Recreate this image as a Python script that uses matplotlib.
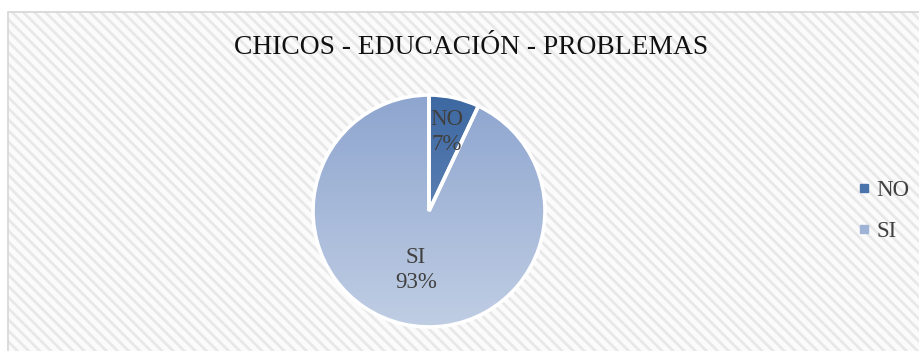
import numpy as np
import matplotlib
matplotlib.use('Agg')
import matplotlib.pyplot as plt
from matplotlib.patches import Rectangle
from matplotlib.lines import Line2D

plt.rcParams['font.family'] = ['Liberation Serif', 'DejaVu Serif']
plt.rcParams['hatch.linewidth'] = 2.0

TITLE = "CHICOS - EDUCACIÓN - PROBLEMAS"
categories = ["NO", "SI"]
values = [7, 93]

# gradient top/bottom colours per slice
grad_top = ["#3d68a1", "#8ea5cf"]
grad_bottom = ["#7796c6", "#c0cee4"]
legend_colors = ["#4a72ab", "#9fb3d7"]
label_dist = [0.70, 0.52]

W, H = 920, 351
fig = plt.figure(figsize=(W / 100, H / 100), dpi=100)
fig.patch.set_facecolor("white")

# striped chart area with thin border
bg = Rectangle((8 / W, 0), 1.0, (H - 12) / H, transform=fig.transFigure,
               facecolor="#fbfbfb", edgecolor="#e8e8e8", hatch="\\\\\\",
               linewidth=0, zorder=0)
fig.add_artist(bg)
border = Rectangle((8 / W, -0.01), 1.0, (H - 12) / H + 0.01,
                   transform=fig.transFigure, facecolor="none",
                   edgecolor="#d6d6d6", linewidth=1.2, zorder=1)
fig.add_artist(border)

fig.text(471 / W, 1 - 48 / H, TITLE, ha="center", va="center",
         fontsize=19.8, color="#111111")

# pie
cx, cy, R = 429, H - 211, 116
side = 2 * R * 1.1
ax = fig.add_axes([(cx - side / 2) / W, (cy - side / 2) / H, side / W, side / H])

wedges, _ = ax.pie(values, startangle=90, counterclock=False, radius=1.0,
                   wedgeprops=dict(edgecolor="white", linewidth=2.6),
                   colors=legend_colors)

ys = np.linspace(1, 0, 256).reshape(-1, 1, 1)
for w, top, bot in zip(wedges, grad_top, grad_bottom):
    c1 = np.array(matplotlib.colors.to_rgb(top))
    c2 = np.array(matplotlib.colors.to_rgb(bot))
    img = c1 * ys + c2 * (1 - ys)
    im = ax.imshow(img, extent=[-1, 1, -1, 1], origin="upper",
                   zorder=w.get_zorder() + 0.1, aspect="auto")
    im.set_clip_path(w)
    w.set_facecolor("none")
    w.set_zorder(w.get_zorder() + 0.2)
ax.set_xlim(-1.1, 1.1)
ax.set_ylim(-1.1, 1.1)
ax.set_aspect("equal")
ax.axis("off")

total = sum(values)
for w, cat, v, d in zip(wedges, categories, values, label_dist):
    mid = np.deg2rad((w.theta1 + w.theta2) / 2)
    ax.text(d * np.cos(mid), d * np.sin(mid), f"{cat}\n{round(100 * v / total)}%",
            ha="center", va="center", fontsize=16.5, color="#404040",
            linespacing=1.25, zorder=5)

handles = [Line2D([], [], marker="s", linestyle="none", markersize=5.5,
                  markerfacecolor=c, markeredgecolor=c) for c in legend_colors]
fig.legend(handles, categories, loc="center left",
           bbox_to_anchor=(849 / W, 1 - 211 / H), frameon=False,
           fontsize=16.5, labelcolor="#404040", handlelength=0.5,
           handletextpad=0.3, labelspacing=0.9, borderaxespad=0)

fig.savefig("out.png", dpi=100)
